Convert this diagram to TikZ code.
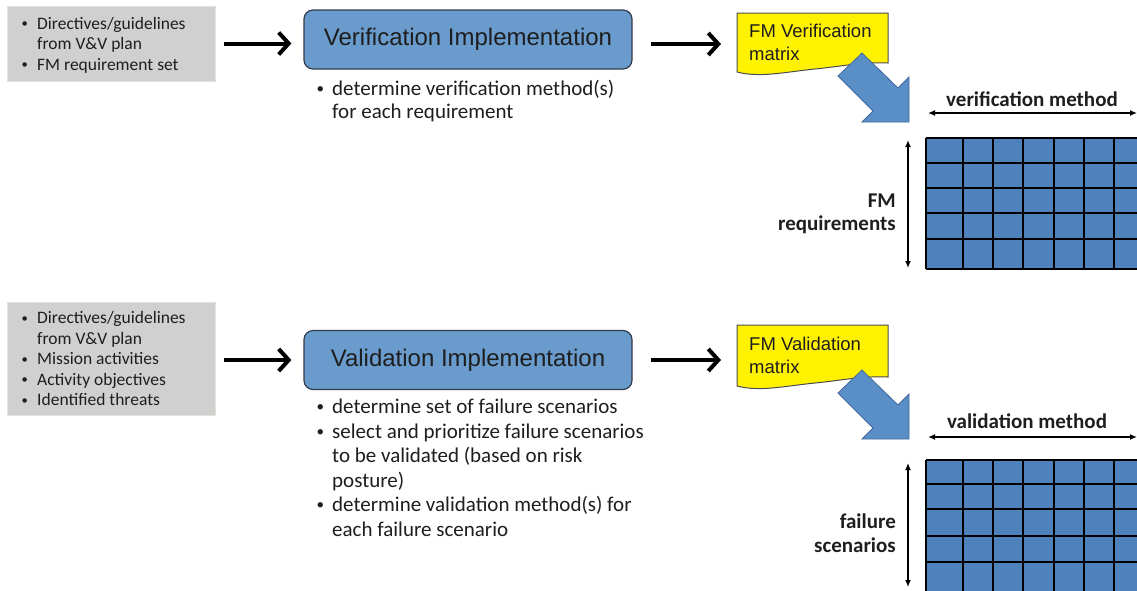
\documentclass[tikz,border=0pt]{standalone}
\usepackage{fontspec}
\setmainfont{Carlito}
\newfontfamily\arialf{Liberation Sans}
\usetikzlibrary{arrows.meta}
\definecolor{boxblue}{RGB}{106,155,205}
\definecolor{boxedge}{RGB}{50,60,75}
\definecolor{gridblue}{RGB}{79,129,189}
\definecolor{arrblue}{RGB}{90,142,198}
\definecolor{arredge}{RGB}{65,105,155}
\definecolor{graybg}{RGB}{208,208,208}
\definecolor{grayedge}{RGB}{228,226,218}
\definecolor{txtgray}{RGB}{30,30,30}
\newcommand\bul[1]{\makebox[#1][l]{\hspace*{1.5pt}\raisebox{0.08em}{\scalebox{0.72}{•}}}}
\begin{document}
\begin{tikzpicture}[x=1pt,y=-1pt,
  graybox/.style={draw=grayedge,line width=1pt,fill=graybg,inner sep=0pt},
  mainbox/.style={draw=boxedge,line width=1.2pt,fill=boxblue,rounded corners=9pt,inner sep=0pt,font=\arialf\fontsize{24}{28}\selectfont,text=txtgray},
  smalltxt/.style={anchor=base west,inner sep=0pt,font=\fontsize{17.5}{20}\selectfont,text=txtgray},
  bultxt/.style={anchor=base west,inner sep=0pt,font=\fontsize{21}{24}\selectfont,text=txtgray},
  doctxt/.style={anchor=base west,inner sep=0pt,font=\arialf\fontsize{18.5}{22}\selectfont,text=txtgray},
  lbl/.style={inner sep=0pt,font=\bfseries\fontsize{21}{24}\selectfont,text=txtgray},
  bigarr/.style={line width=4pt,-{Straight Barb[length=10pt,width=22pt]}},
  dblarr/.style={line width=1.4pt,{Latex[length=7pt,width=6pt]}-{Latex[length=7pt,width=6pt]}},
  docshape/.style={draw=black!70,line width=1pt,fill=yellow},
  blockarr/.style={draw=arredge,line width=0.8pt,fill=arrblue},
  gridline/.style={line width=1.5pt,black}
]
\useasboundingbox (0,0) rectangle (1137,590);

% ---------------- TOP (verification) ----------------
\node[graybox,minimum width=208pt,minimum height=75pt] (in1) at (111,43.5) {};
\node[smalltxt] (g1a) at (20,29) {\bul{17pt}Directives/guidelines};
\node[smalltxt] (g1b) at (20,49.5) {\hspace*{17pt}from V\&V plan};
\node[smalltxt] (g1c) at (20,70) {\bul{17pt}FM requirement set};

\node[mainbox,minimum width=328pt,minimum height=59pt] (vi) at (468,39.5) {Verification Implementation};

\node[bultxt] (b1a) at (315,95) {\bul{17pt}determine verification method(s)};
\node[bultxt] (b1b) at (315,118.5) {\hspace*{17pt}for each requirement};

\draw[bigarr] ([xshift=8pt]in1.east) -- ([xshift=-12pt]in1.east -| vi.west);

% yellow document
\path[docshape] (737,13) -- (888,13) -- (888,63)
  .. controls (860,62) and (845,66) .. (815,69)
  .. controls (785,72) and (760,78) .. (737,72) -- cycle;
\coordinate (doc1) at (737,44);
\node[doctxt] (d1a) at (749,37.5) {FM Verification};
\node[doctxt] (d1b) at (749,60.5) {matrix};
\draw[bigarr] ([xshift=18pt]vi.east |- doc1) -- ([xshift=-16pt]doc1);

% block arrow
\path[blockarr] (862,53) -- (898,88) -- (909,77) -- (909,122) -- (862,122) -- (873,111) -- (838,76) -- cycle;

% grid
\fill[gridblue] (926,138) rectangle (1140,269);
\foreach \yy in {138,163,188,213,239,269} \draw[gridline] (926,\yy) -- (1140,\yy);
\foreach \xx in {926,963,993,1023,1054,1084,1114} \draw[gridline] (\xx,138) -- (\xx,269);

\coordinate (h1a) at (928,113);
\coordinate (h1b) at (1137,113);
\draw[dblarr] (h1a) -- (h1b);
\node[lbl,anchor=base] (vm) at (1032,106) {verification method};

\coordinate (v1a) at (908,140);
\coordinate (v1b) at (908,268);
\draw[dblarr] (v1a) -- (v1b);
\node[lbl,anchor=base east] (fm1) at (896,207) {FM};
\node[lbl,anchor=base east] (fm2) at (896,230) {requirements};

% ---------------- BOTTOM (validation) ----------------
\node[graybox,minimum width=208pt,minimum height=113pt] (in2) at (111,358.5) {};
\node[smalltxt] (g2a) at (20,323.5) {\bul{17pt}Directives/guidelines};
\node[smalltxt] (g2b) at (20,344) {\hspace*{17pt}from V\&V plan};
\node[smalltxt] (g2c) at (20,364.5) {\bul{17pt}Mission activities};
\node[smalltxt] (g2d) at (20,385) {\bul{17pt}Activity objectives};
\node[smalltxt] (g2e) at (20,405.5) {\bul{17pt}Identified threats};

\node[mainbox,minimum width=328pt,minimum height=59pt] (vai) at (468,360) {Validation Implementation};

\node[bultxt] (b2a) at (315,413.5) {\bul{17pt}determine set of failure scenarios};
\node[bultxt] (b2b) at (315,438) {\bul{17pt}select and prioritize failure scenarios};
\node[bultxt] (b2c) at (315,462.5) {\hspace*{17pt}to be validated (based on risk};
\node[bultxt] (b2d) at (315,487) {\hspace*{17pt}posture)};
\node[bultxt] (b2e) at (315,511.5) {\bul{17pt}determine validation method(s) for};
\node[bultxt] (b2f) at (315,536) {\hspace*{17pt}each failure scenario};

\draw[bigarr] ([xshift=8pt]in2.east |- vai.west) -- ([xshift=-12pt]vai.west);

\path[docshape] (737,325) -- (888,325) -- (888,377)
  .. controls (860,376) and (845,380) .. (815,383)
  .. controls (785,386) and (760,392) .. (737,386) -- cycle;
\coordinate (doc2) at (737,360);
\node[doctxt] (d2a) at (749,350) {FM Validation};
\node[doctxt] (d2b) at (749,373) {matrix};
\draw[bigarr] ([xshift=18pt]vai.east) -- ([xshift=-16pt]doc2);

\path[blockarr] (862,370) -- (898,405) -- (909,394) -- (909,439) -- (862,439) -- (873,428) -- (838,393) -- cycle;

\fill[gridblue] (926,460) rectangle (1140,595);
\foreach \yy in {460,484,509,536,562} \draw[gridline] (926,\yy) -- (1140,\yy);
\foreach \xx in {926,963,993,1023,1054,1084,1114} \draw[gridline] (\xx,460) -- (\xx,595);

\coordinate (h2a) at (928,437);
\coordinate (h2b) at (1137,437);
\draw[dblarr] (h2a) -- (h2b);
\node[lbl,anchor=base] (vam) at (1027,428) {validation method};

\coordinate (v2a) at (908,463);
\coordinate (v2b) at (908,587);
\draw[dblarr] (v2a) -- (v2b);
\node[lbl,anchor=base east] (fs1) at (896,528) {failure};
\node[lbl,anchor=base east] (fs2) at (896,552) {scenarios};
\end{tikzpicture}
\end{document}
